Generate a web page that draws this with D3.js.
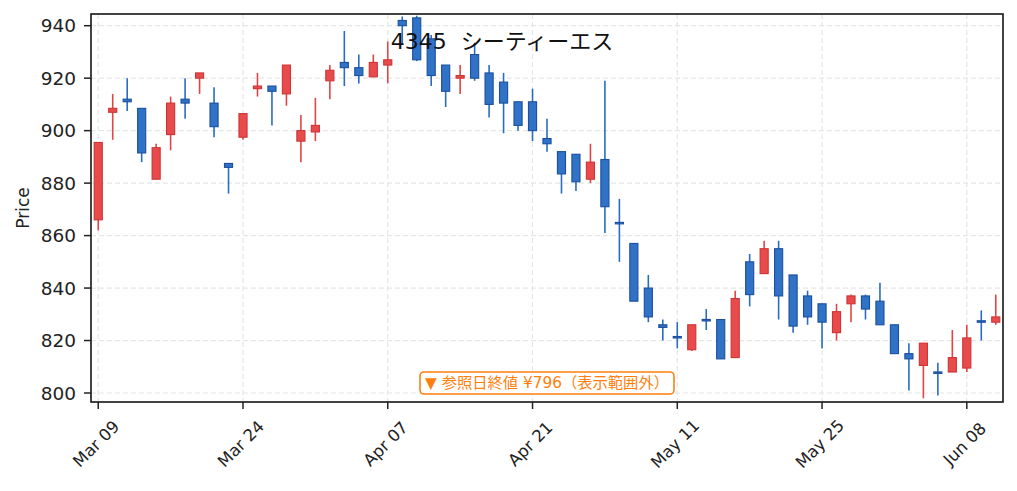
<!DOCTYPE html>
<html>
<head>
<meta charset="utf-8">
<script src="https://cdn.jsdelivr.net/npm/d3@7"></script>
<style>
html,body{margin:0;padding:0;background:#fff;}
svg{display:block;}
</style>
</head>
<body>
<svg id="chart" width="1017" height="491"></svg>
<script>
const titleText = "4345 シーティーエス";
const yLabel = "Price";
const noteText = "▼ 参照日終値 ¥796（表示範囲外）";

const dates = [
"2026-03-09","2026-03-10","2026-03-11","2026-03-12","2026-03-13","2026-03-16","2026-03-17","2026-03-18","2026-03-19","2026-03-23",
"2026-03-24","2026-03-25","2026-03-26","2026-03-27","2026-03-30","2026-03-31","2026-04-01","2026-04-02","2026-04-03","2026-04-06",
"2026-04-07","2026-04-08","2026-04-09","2026-04-10","2026-04-13","2026-04-14","2026-04-15","2026-04-16","2026-04-17","2026-04-20",
"2026-04-21","2026-04-22","2026-04-23","2026-04-24","2026-04-27","2026-04-28","2026-04-30","2026-05-01","2026-05-07","2026-05-08",
"2026-05-11","2026-05-12","2026-05-13","2026-05-14","2026-05-15","2026-05-18","2026-05-19","2026-05-20","2026-05-21","2026-05-22",
"2026-05-25","2026-05-26","2026-05-27","2026-05-28","2026-05-29","2026-06-01","2026-06-02","2026-06-03","2026-06-04","2026-06-05",
"2026-06-08","2026-06-09","2026-06-10"];

const open  = [866,907,912,908.5,881.5,898.5,912,920,910.5,887.5,
               897.5,916,917,914,896,899.5,919,926,924,920.5,
               925,942,943,935,925,920,929,922,918.5,911,
               911,897,892,891,881.5,889,865,857,840,826,
               821.5,816.5,828,828,813.5,850,845.5,855,845,837,
               834,823,834,837,835,826,815,810.5,808,808,
               809.5,827.5,827];
const high  = [895.5,914,920,908.5,895,913,920,922,916.5,887.5,
               906.5,922,917,925,906,912.5,925,938,929,929,
               934,943.5,943.8,936.5,925,925,933.5,925,922,911,
               916,904.5,892,891,895,919,874,857,845,828,
               827,826,832,828,839,853,858,858,845,839,
               834,834,837.5,837.5,842,826,819,819,811.5,824,
               826,831.5,837.5];
const low   = [862,896.5,907.5,888,881.5,892.5,904.5,914,897.5,876,
               896.5,913,902,909.5,888,896,912,917,918,920.5,
               918,933,926.5,917,909,914,919,905,899,900,
               896,892,876,877,880,861,850,835,827,820,
               817,816,824,813,813.5,833,845.5,828,823,826,
               817,820,827,828,826,815,801,798,799,808,
               808,820,826];
const close = [895.5,908.5,911,891.5,893.5,910.5,910.5,922,901.5,886,
               906.5,917,915,925,900,902,923,924,921,926,
               927,940,927,921,915,921,920,910,910.5,902,
               900,895,883.5,880.5,888,871,864.5,835,829,825,
               821,826,827.5,813,836,837.5,855,837,825.5,829,
               827,831,837,832,826,815,813,819,807.5,813.5,
               821,827,829];

const tickLabels = ["Mar 09","Mar 24","Apr 07","Apr 21","May 11","May 25","Jun 08"];
const tickDates  = ["2026-03-09","2026-03-24","2026-04-07","2026-04-21","2026-05-11","2026-05-25","2026-06-08"];
const yTicks = [800,820,840,860,880,900,920,940];

const upFill = "#e84b4b", upStroke = "#cf3434", upWick = "#e04646";
const dnFill = "#2f72c6", dnStroke = "#1b4f9f", dnWick = "#2a6cc2";
const orange = "#ff7f0e";
const latinFont = "'DejaVu Sans', 'Noto Sans CJK JP', sans-serif";

const pL = 91, pR = 1003, pT = 14, pB = 402;

const svg = d3.select("#chart");
const x = d3.scaleLinear().domain([-0.5, dates.length - 0.5]).range([pL, pR]);
const y = d3.scaleLinear().domain([796.57, 944.46]).range([pB, pT]);
const step = x(1) - x(0);

const tickIdx = tickDates.map(d => dates.indexOf(d));

// grid
const grid = svg.append("g");
grid.selectAll("line.gy").data(yTicks).join("line")
  .attr("x1", pL).attr("x2", pR)
  .attr("y1", d => y(d)).attr("y2", d => y(d))
  .attr("stroke", "#e6e6e6").attr("stroke-width", 1.2).attr("stroke-dasharray", "5,3");
grid.selectAll("line.gx").data(tickIdx).join("line")
  .attr("x1", d => x(d)).attr("x2", d => x(d))
  .attr("y1", pT).attr("y2", pB)
  .attr("stroke", "#e6e6e6").attr("stroke-width", 1.2).attr("stroke-dasharray", "5,3");

// candles
const data = dates.map((d, i) => ({i, o: open[i], h: high[i], l: low[i], c: close[i]}));
const plot = svg.append("g");
plot.append("clipPath").attr("id", "clip").append("rect")
  .attr("x", pL).attr("y", pT).attr("width", pR - pL).attr("height", pB - pT);
const cg = plot.append("g").attr("clip-path", "url(#clip)");
cg.selectAll("line.wick").data(data).join("line")
  .attr("x1", d => x(d.i)).attr("x2", d => x(d.i))
  .attr("y1", d => y(d.h)).attr("y2", d => y(d.l))
  .attr("stroke", d => d.c >= d.o ? upWick : dnWick)
  .attr("stroke-width", 1.6);
const bw = step * 0.56;
cg.selectAll("rect.body").data(data).join("rect")
  .attr("x", d => x(d.i) - bw / 2)
  .attr("width", bw)
  .attr("y", d => {
    const t = y(Math.max(d.o, d.c)), b = y(Math.min(d.o, d.c));
    return (b - t < 1.5) ? (t + b) / 2 - 0.75 : t;
  })
  .attr("height", d => Math.max(1.5, y(Math.min(d.o, d.c)) - y(Math.max(d.o, d.c))))
  .attr("fill", d => d.c >= d.o ? upFill : dnFill)
  .attr("stroke", d => d.c >= d.o ? upStroke : dnStroke)
  .attr("stroke-width", 1.1);

// frame
svg.append("rect").attr("x", pL).attr("y", pT)
  .attr("width", pR - pL).attr("height", pB - pT)
  .attr("fill", "none").attr("stroke", "#222").attr("stroke-width", 1.7);

// y axis
const yAxis = svg.append("g");
yAxis.selectAll("line").data(yTicks).join("line")
  .attr("x1", pL - 7).attr("x2", pL)
  .attr("y1", d => y(d)).attr("y2", d => y(d))
  .attr("stroke", "#222").attr("stroke-width", 1.5);
yAxis.selectAll("text").data(yTicks).join("text")
  .attr("x", pL - 15).attr("y", d => y(d))
  .attr("text-anchor", "end").attr("dominant-baseline", "central")
  .attr("font-family", latinFont).attr("font-size", 18.5).attr("fill", "#222")
  .text(d => d);

svg.append("text")
  .attr("transform", `translate(23,${(pT + pB) / 2}) rotate(-90)`)
  .attr("text-anchor", "middle").attr("dominant-baseline", "central")
  .attr("font-family", latinFont).attr("font-size", 17).attr("fill", "#222")
  .text(yLabel);

// x axis
const xAxis = svg.append("g");
xAxis.selectAll("line").data(tickIdx).join("line")
  .attr("x1", d => x(d)).attr("x2", d => x(d))
  .attr("y1", pB).attr("y2", pB + 7)
  .attr("stroke", "#222").attr("stroke-width", 1.5);
xAxis.selectAll("text").data(tickIdx).join("text")
  .attr("transform", (d) => `translate(${x(d) - 2},444) rotate(-45)`)
  .attr("text-anchor", "middle").attr("dominant-baseline", "central")
  .attr("font-family", latinFont).attr("font-size", 16.5).attr("fill", "#222")
  .text((d, k) => tickLabels[k]);

// title
svg.append("text")
  .attr("x", 502).attr("y", 49)
  .attr("text-anchor", "middle")
  .attr("font-family", latinFont).attr("font-size", 22).attr("fill", "#111")
  .style("word-spacing", "7px")
  .text(titleText);

// note box
const ng = svg.append("g");
const nt = ng.append("text")
  .attr("x", (pL + pR) / 2).attr("y", 383)
  .attr("text-anchor", "middle").attr("dominant-baseline", "central")
  .attr("font-family", latinFont).attr("font-size", 15.3).attr("fill", orange)
  .text(noteText);
const bb = nt.node().getBBox();
ng.insert("rect", "text")
  .attr("x", bb.x - 5).attr("y", 372)
  .attr("width", bb.width + 10).attr("height", 22)
  .attr("rx", 4).attr("fill", "#fff")
  .attr("stroke", orange).attr("stroke-width", 1.6);
</script>
</body>
</html>
